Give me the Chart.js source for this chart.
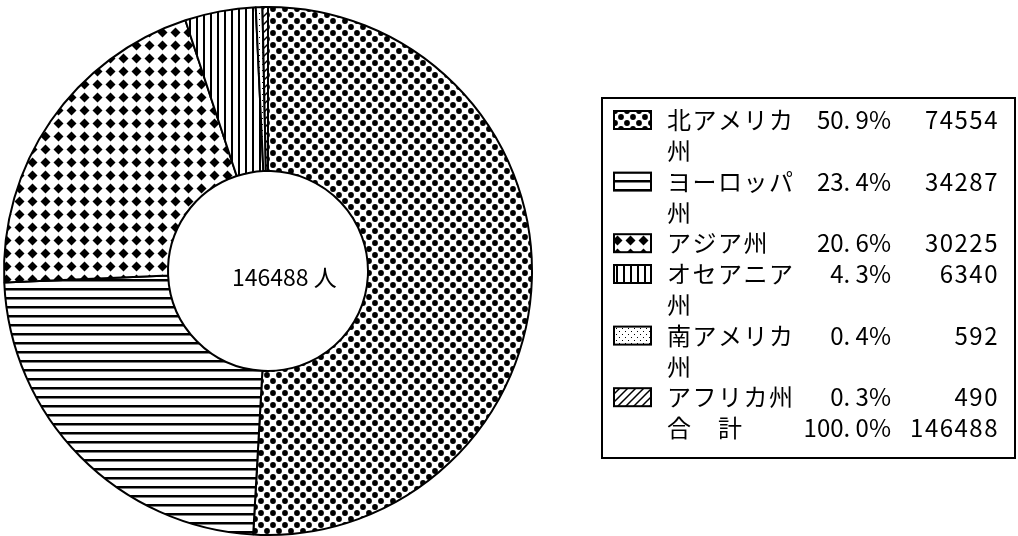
<!DOCTYPE html>
<html lang="ja">
<head>
<meta charset="utf-8">
<script src="https://cdn.jsdelivr.net/npm/chart.js@4.4.1/dist/chart.umd.min.js"></script>
<style>
  html, body { margin: 0; padding: 0; background: #fff; }
  #wrap { width: 1018px; height: 536px; position: relative; overflow: hidden; }
</style>
</head>
<body>
<div id="wrap"><canvas id="pie-chart" width="1018" height="536"></canvas></div>
<script>
// data
const regions = ['北アメリカ州', 'ヨーロッパ州', 'アジア州', 'オセアニア州', '南アメリカ州', 'アフリカ州'];
const visitors = [74554, 34287, 30225, 6340, 592, 490];
const totalLabel = '合　計';
const unitLabel = '人';

const canvas = document.getElementById('pie-chart');
const ctx = canvas.getContext('2d');

function makePattern(w, h, draw) {
    const c = document.createElement('canvas');
    c.width = w;
    c.height = h;
    const g = c.getContext('2d');
    g.fillStyle = '#fff';
    g.fillRect(0, 0, w, h);
    g.fillStyle = '#000';
    g.strokeStyle = '#000';
    draw(g);
    return ctx.createPattern(c, 'repeat');
}

function dot(g, x, y, r) {
    g.beginPath();
    g.arc(x, y, r, 0, Math.PI * 2);
    g.fill();
}

// black & white hatch fills, one per region
const patterns = [
    makePattern(12, 12, g => { dot(g, 3, 3, 2.9); dot(g, 9, 9, 2.9); }),
    makePattern(8, 9, g => { g.fillRect(0, 0, 8, 2.5); }),
    makePattern(13, 13, g => {
        g.beginPath();
        g.moveTo(6.5, 1.5); g.lineTo(11.5, 6.5); g.lineTo(6.5, 11.5); g.lineTo(1.5, 6.5);
        g.closePath();
        g.fill();
    }),
    makePattern(7, 8, g => { g.fillRect(0, 0, 2, 8); }),
    makePattern(6, 6, g => { g.fillRect(1, 1, 1, 1); g.fillRect(4, 4, 1, 1); }),
    makePattern(8, 8, g => {
        g.lineWidth = 1.5;
        g.beginPath();
        g.moveTo(0, 8); g.lineTo(8, 0);
        g.moveTo(-4, 4); g.lineTo(4, -4);
        g.moveTo(4, 12); g.lineTo(12, 4);
        g.stroke();
    })
];

const total = visitors.reduce((a, b) => a + b, 0);
const fmtPct = v => (v / total * 100).toFixed(1).replace('.', '. ') + '%';

const textFont = '24px "Noto Sans CJK JP", "Noto Sans", sans-serif';

const tablePlugin = {
    id: 'tablePlugin',
    afterDraw(chart) {
        const c = chart.ctx;
        c.save();
        c.fillStyle = '#000';
        c.font = '23px "Noto Sans CJK JP", "Noto Sans", sans-serif';
        c.textBaseline = 'middle';

        // total in the hole
        c.textAlign = 'left';
        c.fillText(total + ' ' + unitLabel, 232, 277);

        // legend box
        c.lineWidth = 2;
        c.strokeStyle = '#000';
        c.strokeRect(602, 98, 413, 360);

        c.font = textFont;
        const lineH = 30.8;
        const pctCell = (txt, y) => {
            c.letterSpacing = '0px';
            c.textAlign = 'right';
            c.fillText(txt, 891, y);
            c.letterSpacing = '1.5px';
        };
        c.letterSpacing = '1.5px';
        let y = 120;
        regions.forEach((name, i) => {
            c.fillStyle = patterns[i];
            c.fillRect(614, y - 9, 37, 18);
            c.lineWidth = 2;
            c.strokeRect(614, y - 9, 37, 18);

            c.fillStyle = '#000';
            pctCell(fmtPct(visitors[i]), y);
            c.textAlign = 'right';
            c.fillText(String(visitors[i]), 999, y);

            c.textAlign = 'left';
            for (let k = 0; k < name.length; k += 5) {
                c.fillText(name.slice(k, k + 5), 667, y);
                y += lineH;
            }
        });
        c.textAlign = 'left';
        c.fillText(totalLabel, 667, y);
        pctCell(fmtPct(total), y);
        c.textAlign = 'right';
        c.fillText(String(total), 999, y);
        c.restore();
    }
};

new Chart(ctx, {
    type: 'doughnut',
    data: {
        labels: regions,
        datasets: [{
            data: visitors,
            backgroundColor: patterns,
            borderColor: '#000',
            borderWidth: 2,
            radius: 264,
            cutout: 100
        }]
    },
    options: {
        responsive: false,
        animation: false,
        events: [],
        layout: { padding: { left: 0, right: 482, top: 6, bottom: 0 } },
        plugins: {
            legend: { display: false },
            tooltip: { enabled: false }
        }
    },
    plugins: [tablePlugin]
});
</script>
</body>
</html>
